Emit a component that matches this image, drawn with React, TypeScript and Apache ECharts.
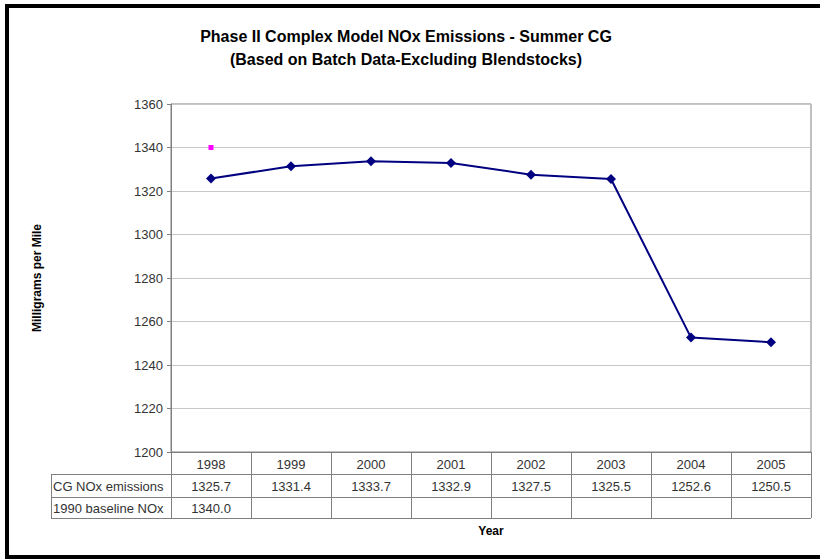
import React, { useEffect, useRef } from "react";
import * as echarts from "echarts";

const years = ["1998", "1999", "2000", "2001", "2002", "2003", "2004", "2005"];
const cgNox = [1325.7, 1331.4, 1333.7, 1332.9, 1327.5, 1325.5, 1252.6, 1250.5];
const baselineNox: (number | null)[] = [1340.0, null, null, null, null, null, null, null];
const seriesNames = ["CG NOx emissions", "1990 baseline NOx"];
const yMin = 1200;
const yMax = 1360;
const yStep = 20;

const FONT = "'Liberation Sans', Arial, sans-serif";

export default function App() {
  const ref = useRef<HTMLDivElement>(null);
  useEffect(() => {
    if (!ref.current) return;
    const chart = echarts.init(ref.current, null, { renderer: "svg" });
    const gridLeft = 171;
    const gridRight = 9;
    const gridTop = 104;
    const gridBottom = 107;
    chart.setOption({
      animation: false,
      backgroundColor: "#ffffff",
      textStyle: { fontFamily: FONT },
      title: {
        text: "Phase II Complex Model NOx Emissions - Summer CG\n(Based on Batch Data-Excluding Blendstocks)",
        left: 401,
        textAlign: "center",
        top: 20,
        textStyle: { fontSize: 16, fontWeight: "bold", color: "#000", lineHeight: 23, fontFamily: FONT },
      },
      grid: {
        left: gridLeft,
        right: gridRight,
        top: gridTop,
        bottom: gridBottom,
        show: true,
        borderColor: "#808080",
        borderWidth: 1,
        backgroundColor: "#ffffff",
      },
      xAxis: {
        type: "category",
        data: years,
        boundaryGap: true,
        axisLine: { show: true, lineStyle: { color: "#808080" } },
        axisTick: { show: false },
        axisLabel: { show: false },
        splitLine: { show: false },
      },
      yAxis: {
        type: "value",
        min: yMin,
        max: yMax,
        interval: yStep,
        name: "Milligrams per Mile",
        nameLocation: "middle",
        nameGap: 128,
        nameTextStyle: { fontSize: 12, fontWeight: "bold", color: "#000", fontFamily: FONT },
        axisLine: { show: true, lineStyle: { color: "#808080" } },
        axisTick: { show: true, length: 4, lineStyle: { color: "#808080" } },
        axisLabel: { fontSize: 13, color: "#333", margin: 8, fontFamily: FONT, formatter: (v: number) => String(v) },
        splitLine: { show: true, lineStyle: { color: "#c8c8c8", width: 1 } },
      },
      series: [
        {
          name: seriesNames[0],
          type: "line",
          data: cgNox,
          symbol: "diamond",
          symbolSize: 10,
          lineStyle: { color: "#000080", width: 2 },
          itemStyle: { color: "#000080" },
        },
        {
          name: seriesNames[1],
          type: "line",
          data: baselineNox,
          symbol: "rect",
          symbolSize: 5,
          showSymbol: true,
          lineStyle: { width: 0 },
          itemStyle: { color: "#ff00ff" },
        },
      ],
    });

    // Build data table from axis scale
    const x0 = chart.convertToPixel({ xAxisIndex: 0 }, 0) as number;
    const x1 = chart.convertToPixel({ xAxisIndex: 0 }, 1) as number;
    const band = x1 - x0;
    const yAxisPx = chart.convertToPixel({ yAxisIndex: 0 }, yMin) as number;
    const rowH = [22, 23, 21];
    const rowTop = [yAxisPx, yAxisPx + rowH[0], yAxisPx + rowH[0] + rowH[1]];
    const tableBottom = rowTop[2] + rowH[2];
    const labelLeft = 51;
    const left = x0 - band / 2;
    const right = x0 + band * (years.length - 0.5);
    const lineColor = "#808080";
    const g: any[] = [];
    const hline = (y: number, xa: number, xb: number) =>
      g.push({ type: "line", shape: { x1: xa, y1: y, x2: xb, y2: y }, style: { stroke: lineColor, lineWidth: 1 }, z: 10 });
    const vline = (x: number, ya: number, yb: number) =>
      g.push({ type: "line", shape: { x1: x, y1: ya, x2: x, y2: yb }, style: { stroke: lineColor, lineWidth: 1 }, z: 10 });
    hline(Math.round(rowTop[1]) + 0.5, labelLeft, right);
    hline(Math.round(rowTop[2]) + 0.5, labelLeft, right);
    hline(Math.round(tableBottom) + 0.5, labelLeft, right);
    vline(labelLeft + 0.5, rowTop[1], tableBottom);
    for (let i = 0; i <= years.length; i++) {
      vline(Math.round(left + band * i) + 0.5, rowTop[0], tableBottom);
    }
    const textStyle = (t: string, x: number, y: number, align: string) => ({
      type: "text",
      x,
      y,
      style: { text: t, fill: "#333", fontSize: 13, fontFamily: FONT, align, verticalAlign: "middle" },
      z: 11,
    });
    years.forEach((yr, i) => {
      const cx = chart.convertToPixel({ xAxisIndex: 0 }, i) as number;
      g.push(textStyle(yr, cx, rowTop[0] + rowH[0] / 2 + 1, "center"));
      g.push(textStyle(cgNox[i].toFixed(1), cx, rowTop[1] + rowH[1] / 2 + 1, "center"));
      const b = baselineNox[i];
      if (b != null) g.push(textStyle(b.toFixed(1), cx, rowTop[2] + rowH[2] / 2 + 1, "center"));
    });
    g.push(textStyle(seriesNames[0], labelLeft + 2, rowTop[1] + rowH[1] / 2 + 1, "left"));
    g.push(textStyle(seriesNames[1], labelLeft + 2, rowTop[2] + rowH[2] / 2 + 1, "left"));
    g.push({
      type: "text",
      x: (left + right) / 2,
      y: 531,
      style: { text: "Year", fill: "#000", fontSize: 12, fontWeight: "bold", fontFamily: FONT, align: "center", verticalAlign: "middle" },
      z: 11,
    });
    // Outer chart border
    g.push({
      type: "rect",
      shape: { x: 7, y: 6, width: 830, height: 551 },
      style: { fill: "none", stroke: "#000", lineWidth: 4 },
      z: 20,
    });
    chart.setOption({ graphic: g });
    return () => chart.dispose();
  }, []);
  return <div ref={ref} style={{ position: "fixed", left: 0, top: 0, width: 820, height: 559 }} />;
}
